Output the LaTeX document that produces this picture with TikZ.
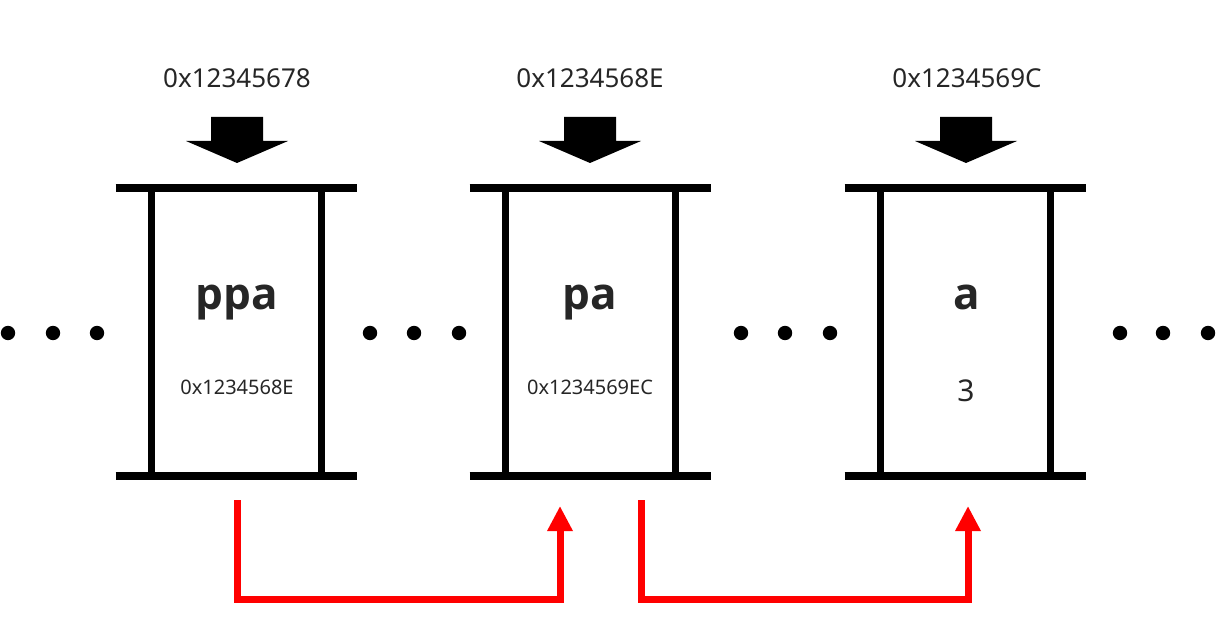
\documentclass[tikz,border=0pt]{standalone}
\usepackage{fontspec}
\setmainfont{Noto Sans}
\newfontfamily\namefont{Open Sans}
\usetikzlibrary{arrows.meta,positioning}

\begin{document}
\begin{tikzpicture}[x=0.5pt,y=-0.5pt]

      \useasboundingbox (0,0) rectangle (1231,630);

      \begin{scope}[every node/.style={minimum width=84.5pt,minimum height=144pt,inner sep=0pt}]
        \node (ppa) at (236.5,332) {};
        \node (pa)  at (590.5,332) {};
        \node (a)   at (965.5,332) {};
      \end{scope}

      % names, values and addresses
      \begin{scope}[every node/.style={anchor=base,inner sep=0pt,text=black!85}]
        \node[font=\fontsize{13}{15}\selectfont] (addrppa) at (237,88)  {0x12345678};
        \node[font=\fontsize{13}{15}\selectfont] (addrpa)  at (590,88)  {0x1234568E};
        \node[font=\fontsize{13}{15}\selectfont] (addra)   at (967,88)  {0x1234569C};
        \node[font=\namefont\bfseries\fontsize{22}{26}\selectfont] (nameppa) at (237,310) {ppa};
        \node[font=\namefont\bfseries\fontsize{22}{26}\selectfont] (namepa)  at (590,310) {pa};
        \node[font=\namefont\bfseries\fontsize{22}{26}\selectfont] (namea)   at (967,310) {a};
        \node[font=\fontsize{10}{12}\selectfont] (valppa) at (237,394) {0x1234568E};
        \node[font=\fontsize{10}{12}\selectfont] (valpa)  at (590,394) {0x1234569EC};
        \node[font=\fontsize{15}{18}\selectfont] (vala)   at (966,401) {3};
      \end{scope}

      \begin{scope}[every path/.style={draw,line width=4pt}]
        \path ([xshift=-18pt]ppa.north west) -- ([xshift=18pt]ppa.north east);
        \path ([xshift=-18pt]ppa.south west) -- ([xshift=18pt]ppa.south east);
        \path ([xshift=-18pt]pa.north west)  -- ([xshift=18pt]pa.north east);
        \path ([xshift=-18pt]pa.south west)  -- ([xshift=18pt]pa.south east);
        \path ([xshift=-18pt]a.north west)   -- ([xshift=18pt]a.north east);
        \path ([xshift=-18pt]a.south west)   -- ([xshift=18pt]a.south east);
      \end{scope}
      \begin{scope}[every path/.style={draw,line width=3.5pt}]
        \path (ppa.north west) -- (ppa.south west);
        \path (ppa.north east) -- (ppa.south east);
        \path (pa.north west)  -- (pa.south west);
        \path (pa.north east)  -- (pa.south east);
        \path (a.north west)   -- (a.south west);
        \path (a.north east)   -- (a.south east);
      \end{scope}

      % address pointers
      \coordinate (ptrppa) at (237,163);
      \coordinate (ptrpa)  at (590,163);
      \coordinate (ptra)   at (966,163);
      \fill (ptrppa) -- ++(-51,-22) -- ++(25,0) -- ++(0,-24) -- ++(52,0) -- ++(0,24) -- ++(25,0) -- cycle;
      \fill (ptrpa)  -- ++(-51,-22) -- ++(25,0) -- ++(0,-24) -- ++(52,0) -- ++(0,24) -- ++(25,0) -- cycle;
      \fill (ptra)   -- ++(-51,-22) -- ++(25,0) -- ++(0,-24) -- ++(52,0) -- ++(0,24) -- ++(25,0) -- cycle;

      % more memory
      \foreach \x in {8,53,97,370,414,459,741,785,830,1120,1163,1208}
        \fill (\x,333) circle (3.6pt);

      % what each one holds
      \coordinate (outppa) at (237,500);
      \coordinate (inpa)   at (560,506);
      \coordinate (outpa)  at (641,500);
      \coordinate (ina)    at (968,506);
      \begin{scope}[every path/.style={draw=red,line width=3.5pt,-{Triangle[length=12.5pt,width=12pt]}}]
        \path (outppa) -- ++(0,99) -| (inpa);
        \path (outpa)  -- ++(0,99) -| (ina);
      \end{scope}

    \end{tikzpicture}
\end{document}
